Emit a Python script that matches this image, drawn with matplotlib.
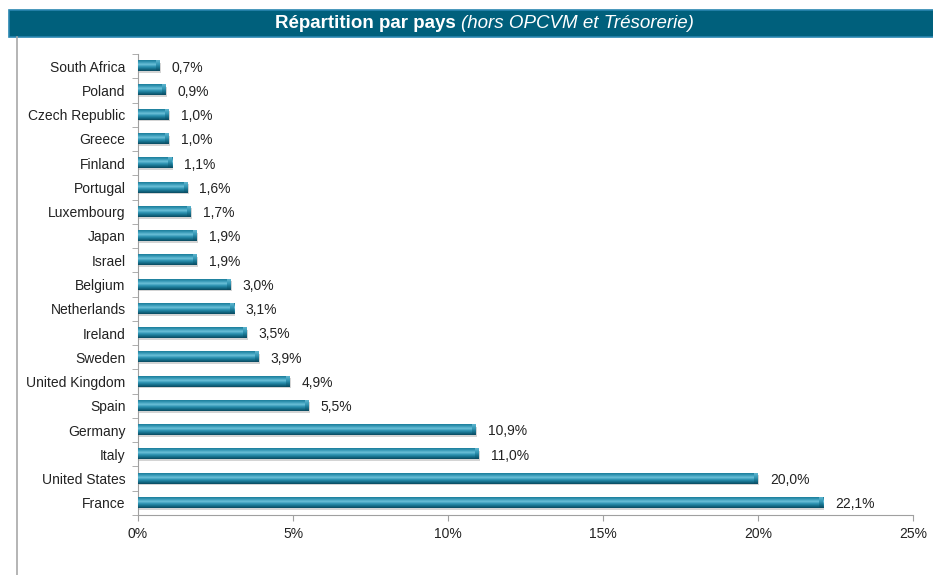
import numpy as np
import matplotlib.pyplot as plt
from matplotlib.patches import Rectangle
from matplotlib.lines import Line2D
from matplotlib.colors import LinearSegmentedColormap

plt.rcParams['font.family'] = ['Liberation Sans', 'DejaVu Sans']

countries = ['South Africa', 'Poland', 'Czech Republic', 'Greece', 'Finland',
             'Portugal', 'Luxembourg', 'Japan', 'Israel', 'Belgium',
             'Netherlands', 'Ireland', 'Sweden', 'United Kingdom', 'Spain',
             'Germany', 'Italy', 'United States', 'France']
values = [0.7, 0.9, 1.0, 1.0, 1.1, 1.6, 1.7, 1.9, 1.9, 3.0,
          3.1, 3.5, 3.9, 4.9, 5.5, 10.9, 11.0, 20.0, 22.1]
xticks = [0, 5, 10, 15, 20, 25]

fig = plt.figure(figsize=(9.33, 5.75), dpi=100)

# title bar
fig.patches.append(Rectangle((9/933, 1-37/575), 1, 27/575, transform=fig.transFigure,
                             facecolor='#00607c', edgecolor='#2a86b0', lw=1.2))
fig.text(456/933, 1-23.5/575, 'Répartition par pays', ha='right', va='center',
         color='white', fontsize=13.5, fontweight='bold')
fig.text(461/933, 1-23.5/575, '(hors OPCVM et Trésorerie)', ha='left', va='center',
         color='white', fontsize=13.5, style='italic')
fig.lines.append(Line2D([17/933, 17/933], [0, 1-37/575], transform=fig.transFigure,
                        color='#a8a8a8', lw=1.2))

ax = fig.add_axes([138/933, 1-515/575, 775/933, 461/575])
y = np.arange(len(countries))[::-1]

# shadow
ax.barh(y - 0.07, values, height=0.42, left=0.04, color='#d4d4d4', zorder=1)
bars = ax.barh(y, values, height=0.42, color='#1d7f9c', zorder=2)

cmap = LinearSegmentedColormap.from_list('cyl', ['#0a4a60', '#16708c', '#2d93b2',
                                                  '#6cc0d8', '#3a9cb9', '#1b7d9a'])
grad = np.linspace(0, 1, 64).reshape(-1, 1)
for b in bars:
    x0, y0 = b.get_x(), b.get_y()
    w, h = b.get_width(), b.get_height()
    ax.imshow(grad, extent=[x0, x0 + w, y0, y0 + h], origin='lower',
              aspect='auto', cmap=cmap, zorder=3)
    # darker end cap
    ax.imshow(grad, extent=[x0 + w - 0.12, x0 + w, y0, y0 + h], origin='lower',
              aspect='auto', cmap=cmap, zorder=4, alpha=0.8, vmax=1.6)

for yi, v in zip(y, values):
    ax.annotate(f'{v:.1f}%'.replace('.', ','), (v, yi), xytext=(8.5, -1),
                textcoords='offset points', va='center', ha='left',
                fontsize=10, color='#222222')

ax.set_xlim(0, 25)
ax.set_ylim(-0.5, len(countries) - 0.5)
ax.set_xticks(xticks)
ax.set_xticklabels([f'{t}%' for t in xticks], fontsize=10, color='#222222')
ax.set_yticks(y)
ax.set_yticklabels(countries, fontsize=10, color='#222222')
ax.set_yticks(np.arange(len(countries) + 1) - 0.5, minor=True)
ax.tick_params(axis='y', which='major', length=0, pad=9)
ax.tick_params(axis='y', which='minor', length=4, color='#a0a0a0')
ax.tick_params(axis='x', length=4, color='#a0a0a0', pad=5)
for s in ['top', 'right']:
    ax.spines[s].set_visible(False)
for s in ['left', 'bottom']:
    ax.spines[s].set_color('#a0a0a0')

fig.savefig('out.png', dpi=100)
